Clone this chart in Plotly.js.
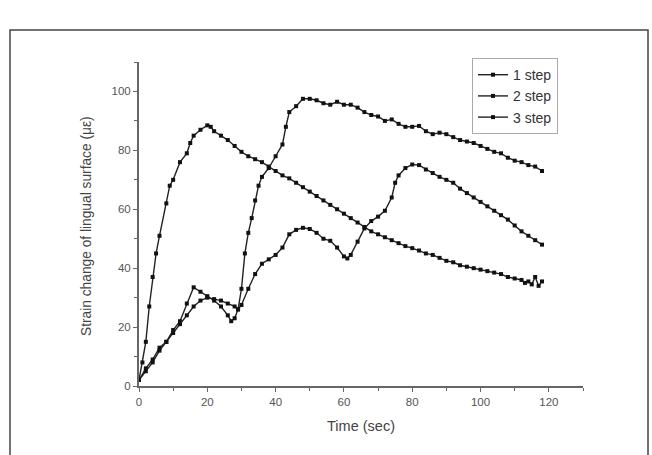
<!DOCTYPE html>
<html>
<head>
<meta charset="utf-8">
<script src="https://cdn.plot.ly/plotly-3.0.1.min.js"></script>
<style>html,body{margin:0;padding:0;background:#fff;}#chart{width:652px;height:455px;}</style>
</head>
<body>
<div id="chart"></div>
<script>
// Series 1 step
const t1 = [0,1,2,3,4,5,6,8,9,10,12,14,15,16,18,20,21,22,24,26,28,30,32,34,36,38,40,42,44,46,48,50,52,54,56,58,60,62,64,66,68,70,72,74,76,78,80,82,84,86,88,90,92,94,96,98,100,102,104,106,108,110,112,113,114,115,116,117,118];
const v1 = [2,8,15,27,37,45,51,62,68,70,76,79,82.5,85,87,88.5,88,86.5,85,83.5,81.5,79.5,78,77,76,74.5,73,71.5,70.5,69,67.5,66,64.5,63,61.5,60,58.5,57,55.5,54,52.5,51.5,50.5,49.5,48.5,47.5,46.8,46,45,44.5,43.5,42.5,42,41,40.5,40,39.5,39,38.5,38,37,36.5,36,35,35.5,34.5,37,34,35.5];
// Series 2 step
const t2 = [0,2,4,6,8,10,12,14,16,18,20,22,24,26,27,28,29,30,31,32,33,34,35,36,38,40,42,43,44,46,48,50,52,54,56,58,60,62,64,66,68,70,72,74,76,78,80,82,84,86,88,90,92,94,96,98,100,102,104,106,108,110,112,114,116,118];
const v2 = [2,6,9,13,15,19,22,28,33.5,32,30.5,29,27,24,22,23,26,33,45,52,57,63,68,71,74,78,82,88,93,95,97.5,97.5,97,96,95.5,96.5,95.5,95.5,94.5,93,92,91.5,90,90.5,89,88,88,88.3,86.5,85.5,86,85.5,84.5,83.5,83,82.5,81.5,80.5,79.5,79,77.5,76.5,76,75,74.5,73];
// Series 3 step
const t3 = [0,2,4,6,8,10,12,14,16,18,20,22,24,26,28,29,30,32,34,36,38,40,42,44,46,48,50,52,54,56,58,60,61,62,64,66,68,70,72,74,75,76,78,80,82,84,86,88,90,92,94,96,98,100,102,104,106,108,110,112,114,116,118];
const v3 = [2,5,8,12,15,18,21,24,27,29,30,29.5,29,28,27,26,27.5,33,38,41.5,43,44.5,47,51.5,53,53.7,53.3,52,50,49.3,47,44,43.3,44.5,49,53.5,56,57.5,59.5,64,69,71.5,74,75.2,75,73.5,72.3,71,70,69,67,65.5,64,62.5,61,59.5,58,56.5,54.5,52.5,51,49.5,48];

const names = ['1 step','2 step','3 step'];
const xTicks = [0,20,40,60,80,100,120];
const yTicks = [0,20,40,60,80,100];

function tr(x,y,name){
  return {x:x,y:y,name:name,type:'scatter',mode:'lines+markers',
    line:{color:'#222',width:1.4},
    marker:{symbol:'square',size:4,color:'#111'}};
}
const data = [tr(t1,v1,names[0]),tr(t2,v2,names[1]),tr(t3,v3,names[2])];

const FF = 'Arial, Liberation Sans, sans-serif';
const axisFont = {family:FF,size:11.5,color:'#555'};
const layout = {
  width:652,height:455,
  margin:{l:139,r:69,t:62,b:69},
  paper_bgcolor:'#fff',plot_bgcolor:'#fff',
  showlegend:true,
  legend:{x:0.75,y:1.012,xanchor:'left',yanchor:'top',bgcolor:'#fff',bordercolor:'#aaa',borderwidth:1,
    font:{family:FF,size:14,color:'#333'},tracegroupgap:0,itemwidth:30},
  xaxis:{range:[0,130],tickvals:xTicks,ticktext:xTicks.map(String),showgrid:false,zeroline:false,
    showline:true,linecolor:'#666',linewidth:2,ticks:'outside',ticklen:4,tickcolor:'#666',tickwidth:1,
    minor:{dtick:10,tick0:0,ticks:'outside',ticklen:3,tickcolor:'#666'},
    tickfont:axisFont,
    title:{text:'Time (sec)',font:{family:FF,size:14.5,color:'#444'},standoff:14}},
  yaxis:{range:[0,110],tickvals:yTicks,ticktext:yTicks.map(String),showgrid:false,zeroline:false,
    showline:true,linecolor:'#666',linewidth:2,ticks:'outside',ticklen:4,tickcolor:'#666',tickwidth:1,
    minor:{dtick:10,tick0:0,ticks:'outside',ticklen:3,tickcolor:'#666'},
    tickfont:axisFont},
  annotations:[{text:'Strain change of lingual surface (με)',xref:'paper',yref:'paper',
    x:(86-139)/444,y:(386-226)/324,xanchor:'center',yanchor:'middle',textangle:-90,showarrow:false,
    font:{family:FF,size:13.75,color:'#444'}}],
  shapes:[{type:'rect',xref:'paper',yref:'paper',x0:(10-139)/444,x1:(648-139)/444,y0:(386-470)/324,y1:(386-30)/324,
    line:{color:'#444',width:1.5},fillcolor:'rgba(0,0,0,0)',layer:'below'}]
};
Plotly.newPlot('chart',data,layout,{displayModeBar:false,staticPlot:true});
</script>
</body>
</html>
